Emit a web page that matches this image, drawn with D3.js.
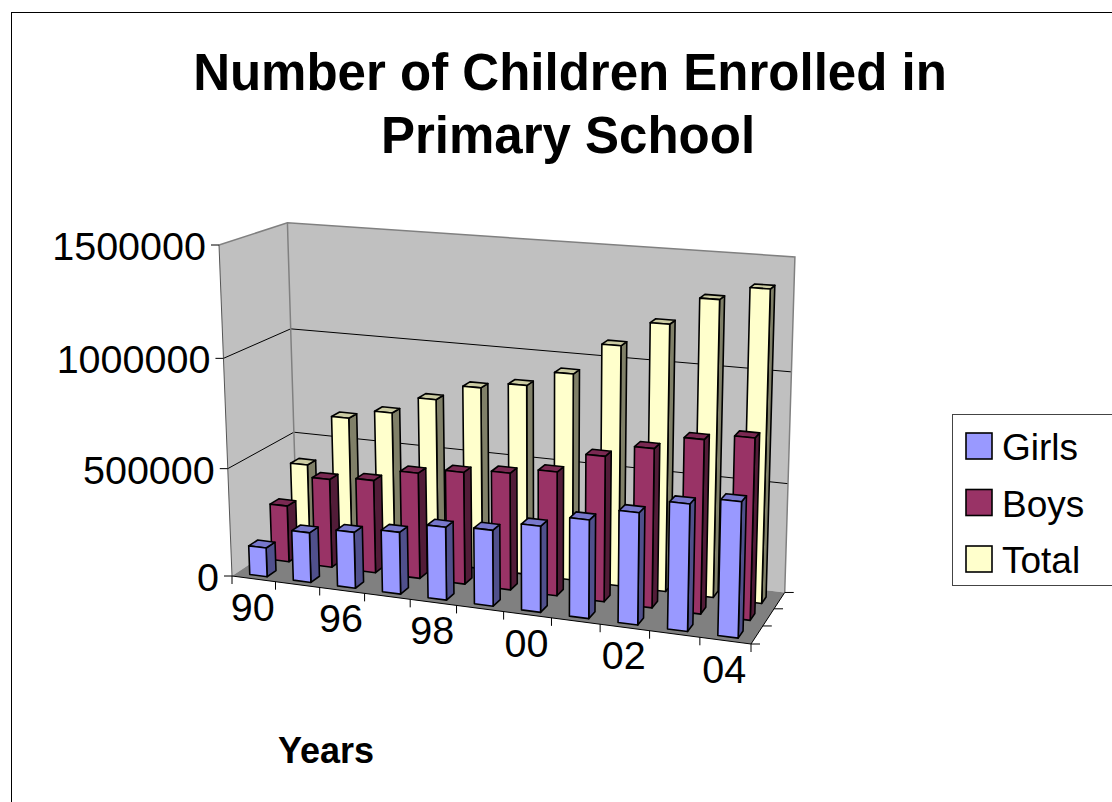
<!DOCTYPE html>
<html>
<head>
<meta charset="utf-8">
<script src="https://cdn.jsdelivr.net/npm/d3@7"></script>
<style>
  html, body { margin: 0; padding: 0; background: #fff; overflow: hidden; }
  text { font-family: "Liberation Sans", Arial, sans-serif; fill: #000; }
</style>
</head>
<body>
<div id="chart"></div>
<script>
const years = ['90', '95', '96', '97', '98', '99', '00', '01', '02', '03', '04']
const series_names = ['Girls', 'Boys', 'Total']
const girls = [135000, 231000, 258000, 283000, 331000, 342000, 385000, 437000, 493000, 555000, 588000]
const boys = [266000, 415000, 433000, 490000, 516000, 535000, 563000, 655000, 711000, 772000, 800000]
const total = [401000, 646000, 691000, 773000, 847000, 877000, 948000, 1092000, 1204000, 1327000, 1388000]
const value_ticks = [0, 500000, 1000000, 1500000]

const face_colors = {
    Girls: { front: '#9999ff', side: '#50508c', top: '#7878cc' },
    Boys: { front: '#993366', side: '#521c38', top: '#7a2952' },
    Total: { front: '#ffffcc', side: '#808068', top: '#cccca3' }
}

const width = 1112
const height = 802

const svg = d3.select('#chart')
    .append('svg')
    .attr('width', width)
    .attr('height', height)

svg.append('rect')
    .attr('x', 11.5).attr('y', 12.5)
    .attr('width', width + 20).attr('height', height + 20)
    .attr('fill', '#fff').attr('stroke', '#000').attr('stroke-width', 1)

// Cube corners on screen, everything else goes through the perspective below
const origin = [232, 576]
const corner_u = [751, 644]
const corner_v = [297, 533]
const corner_h = [219, 245]
const persp = { u: -0.085, v: 0.07, h: -0.04 }

const project = (u, v, h) => {
    const w = 1 + persp.u * u + persp.v * v + persp.h * h
    return [0, 1].map(k => {
        const du = (1 + persp.u) * corner_u[k] - origin[k]
        const dv = (1 + persp.v) * corner_v[k] - origin[k]
        const dh = (1 + persp.h) * corner_h[k] - origin[k]
        return (origin[k] + u * du + v * dv + h * dh) / w
    })
}

const x = d3.scaleBand().domain(years).range([0, 1]).paddingInner(0.6).paddingOuter(0.3)
const z = d3.scaleBand().domain(series_names).range([-0.03, 0.97]).paddingInner(0.6).paddingOuter(0.3)
const y = d3.scaleLinear().domain([0, 1500000]).range([0, 1])

const line = d3.line()
const poly = pts => line(pts.map(p => project(p[0], p[1], p[2]))) + 'Z'

// walls and floor
const chart = svg.append('g')
chart.append('path')
    .attr('d', poly([[0, 0, 0], [0, 1, 0], [0, 1, 1], [0, 0, 1]]))
    .attr('fill', '#c0c0c0')
chart.append('path')
    .attr('d', poly([[0, 1, 0], [1, 1, 0], [1, 1, 1], [0, 1, 1]]))
    .attr('fill', '#c0c0c0')
chart.append('path')
    .attr('d', poly([[0, 0, 0], [1, 0, 0], [1, 1, 0], [0, 1, 0]]))
    .attr('fill', '#808080')

// gridlines run along the left wall then the back wall
value_ticks.slice(1, -1).forEach(d => {
    chart.append('path')
        .attr('d', line([project(0, 0, y(d)), project(0, 1, y(d)), project(1, 1, y(d))]))
        .attr('fill', 'none').attr('stroke', '#000').attr('stroke-width', 1)
})

// wall outline
chart.append('path')
    .attr('d', line([project(0, 0, 1), project(0, 1, 1), project(1, 1, 1), project(1, 1, 0)]))
    .attr('fill', 'none').attr('stroke', '#808080').attr('stroke-width', 1.5)
chart.append('path')
    .attr('d', line([project(0, 1, 1), project(0, 1, 0)]))
    .attr('fill', 'none').attr('stroke', '#808080').attr('stroke-width', 1.5)
chart.append('path')
    .attr('d', line([project(0, 0, 1), project(0, 0, 0)]))
    .attr('fill', 'none').attr('stroke', '#555').attr('stroke-width', 1)
chart.append('path')
    .attr('d', line([project(0, 0, 0), project(1, 0, 0), project(1, 1, 0)]))
    .attr('fill', 'none').attr('stroke', '#000').attr('stroke-width', 1)

// value axis
value_ticks.forEach(d => {
    const p = project(0, 0, y(d))
    chart.append('line')
        .attr('x1', p[0] - 8).attr('x2', p[0])
        .attr('y1', p[1]).attr('y2', p[1])
        .attr('stroke', '#000').attr('stroke-width', 1)
    chart.append('text')
        .attr('x', p[0] - 13).attr('y', p[1] + 15)
        .attr('text-anchor', 'end')
        .attr('font-size', 39.5)
        .text(d)
})

// category ticks sit between the bars, labels on every other year
d3.range(years.length + 1).forEach(i => {
    const p = project(i / years.length, 0, 0)
    chart.append('line')
        .attr('x1', p[0]).attr('x2', p[0])
        .attr('y1', p[1]).attr('y2', p[1] + 8)
        .attr('stroke', '#000').attr('stroke-width', 1)
})
years.forEach((d, i) => {
    if (i % 2) return
    const p = project(x(d) + x.bandwidth() / 2, 0, 0)
    chart.append('text')
        .attr('x', p[0] - 1).attr('y', p[1] + 42)
        .attr('text-anchor', 'middle')
        .attr('font-size', 39.5)
        .text(d)
})

// depth axis ticks
d3.range(series_names.length + 1).forEach(i => {
    const p = project(1, i / series_names.length, 0)
    chart.append('line')
        .attr('x1', p[0]).attr('x2', p[0] + 9)
        .attr('y1', p[1]).attr('y2', p[1])
        .attr('stroke', '#000').attr('stroke-width', 1)
})

const draw_bar = (name, year, value) => {
    const u0 = x(year)
    const u1 = u0 + x.bandwidth()
    const v0 = z(name)
    const v1 = v0 + z.bandwidth()
    const h = y(value)
    const g = chart.append('g')
        .attr('stroke', '#000')
        .attr('stroke-width', 1.6)
        .attr('stroke-linejoin', 'round')
    g.append('path')
        .attr('d', poly([[u1, v0, 0], [u1, v1, 0], [u1, v1, h], [u1, v0, h]]))
        .attr('fill', face_colors[name].side)
    g.append('path')
        .attr('d', poly([[u0, v0, h], [u1, v0, h], [u1, v1, h], [u0, v1, h]]))
        .attr('fill', face_colors[name].top)
    g.append('path')
        .attr('d', poly([[u0, v0, 0], [u1, v0, 0], [u1, v0, h], [u0, v0, h]]))
        .attr('fill', face_colors[name].front)
}

// back row first so the nearer bars cover it
years.forEach((d, i) => draw_bar('Total', d, total[i]))
years.forEach((d, i) => draw_bar('Boys', d, boys[i]))
years.forEach((d, i) => draw_bar('Girls', d, girls[i]))

// title and axis title
const title = svg.append('text')
    .attr('text-anchor', 'middle')
    .attr('font-weight', 'bold')
    .attr('font-size', 51)
title.append('tspan').attr('x', 570).attr('y', 90).text('Number of Children Enrolled in')
title.append('tspan').attr('x', 568).attr('y', 153).text('Primary School')

svg.append('text')
    .attr('x', 326).attr('y', 763)
    .attr('text-anchor', 'middle')
    .attr('font-weight', 'bold')
    .attr('font-size', 36)
    .text('Years')

// legend runs off the right side of the page
const legend = svg.append('g')
legend.append('rect')
    .attr('x', 952.5).attr('y', 414.5)
    .attr('width', 200).attr('height', 171)
    .attr('fill', '#fff').attr('stroke', '#444').attr('stroke-width', 1)
const legend_y = d3.scalePoint().domain(series_names).range([446, 559])
series_names.forEach(name => {
    legend.append('rect')
        .attr('x', 966).attr('y', legend_y(name) - 13)
        .attr('width', 26).attr('height', 26)
        .attr('fill', face_colors[name].front)
        .attr('stroke', '#000').attr('stroke-width', 1.6)
    legend.append('text')
        .attr('x', 1002).attr('y', legend_y(name) + 14)
        .attr('font-size', 37)
        .text(name)
})
</script>
</body>
</html>
